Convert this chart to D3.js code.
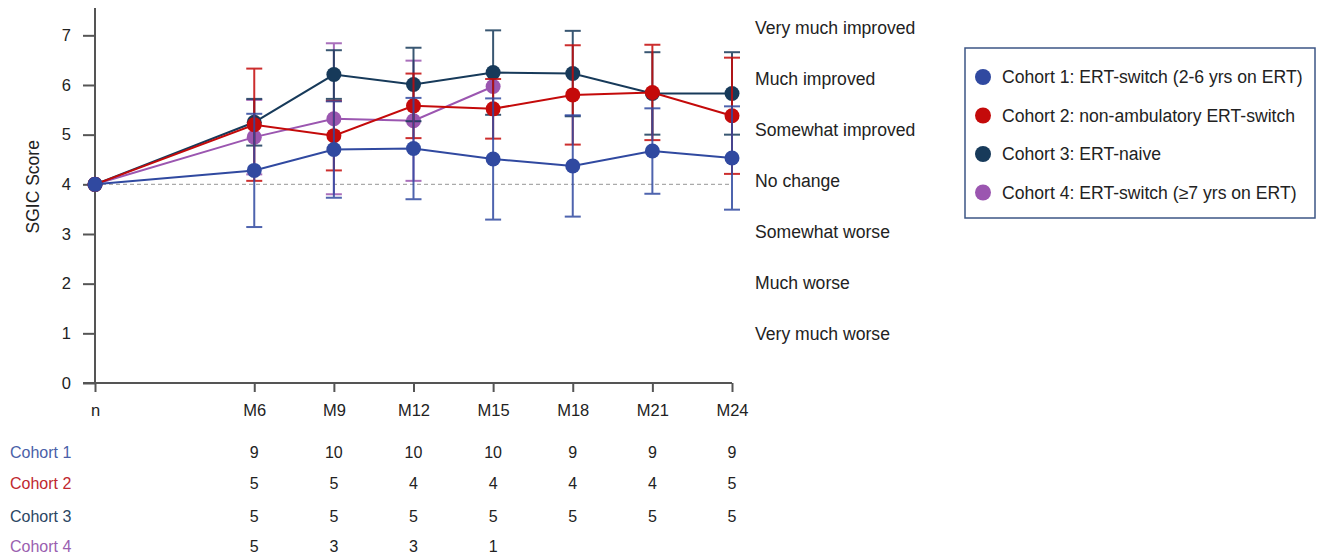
<!DOCTYPE html>
<html><head><meta charset="utf-8">
<script src="https://cdn.jsdelivr.net/npm/d3@7"></script>
<style>
html,body{margin:0;padding:0;background:#fff;}
svg{display:block;font-family:"Liberation Sans",Arial,sans-serif;}
</style></head>
<body><svg id="chart" width="1322" height="557"></svg>
<script>
// ---- data ----
const months = [0, 6, 9, 12, 15, 18, 21, 24];
const tickLabels = ["n", "M6", "M9", "M12", "M15", "M18", "M21", "M24"];
const yTicks = [0, 1, 2, 3, 4, 5, 6, 7];
const categoryLabels = ["Very much worse", "Much worse", "Somewhat worse", "No change", "Somewhat improved", "Much improved", "Very much improved"];
const categoryValues = [1, 2, 3, 4, 5, 6, 7];

const cohortNames = ["Cohort 1", "Cohort 2", "Cohort 3", "Cohort 4"];
const legendLabels = ["Cohort 1: ERT-switch (2-6 yrs on ERT)", "Cohort 2: non-ambulatory ERT-switch", "Cohort 3: ERT-naive", "Cohort 4: ERT-switch (\u22657 yrs on ERT)"];
const colors = ["#3049a0", "#c40a0a", "#173a5a", "#9b56b0"];
const labelColors = ["#4a5fa8", "#c0282e", "#2b4663", "#9a5fb0"];

const c1Mean = [4, 4.28, 4.70, 4.72, 4.51, 4.37, 4.67, 4.53];
const c1SD   = [0, 1.14, 0.97, 1.02, 1.22, 1.02, 0.86, 1.04];
const c2Mean = [4, 5.20, 4.98, 5.58, 5.52, 5.80, 5.85, 5.38];
const c2SD   = [0, 1.13, 0.70, 0.65, 0.60, 1.00, 0.96, 1.17];
const c3Mean = [4, 5.25, 6.21, 6.01, 6.25, 6.23, 5.83, 5.83];
const c3SD   = [0, 0.47, 0.49, 0.74, 0.85, 0.86, 0.83, 0.83];
const c4Mean = [4, 4.95, 5.32, 5.28, 5.97];
const c4SD   = [0, 0.75, 1.52, 1.21, 0];

const n1 = [9, 10, 10, 10, 9, 9, 9];
const n2 = [5, 5, 4, 4, 4, 4, 5];
const n3 = [5, 5, 5, 5, 5, 5, 5];
const n4 = [5, 3, 3, 1];

const means = [c1Mean, c2Mean, c3Mean, c4Mean];
const sds = [c1SD, c2SD, c3SD, c4SD];
const ns = [n1, n2, n3, n4];

// ---- scales ----
const svg = d3.select("#chart");
const x = d3.scaleLinear().domain([0, 24]).range([95, 732]);
const y = d3.scaleLinear().domain([0, 7.55]).range([383, 8]);
const yCat = d3.scaleLinear().domain([1, 7]).range([334, 28]);

// dashed no-change line
svg.append("line")
  .attr("x1", x(0)).attr("x2", x(24))
  .attr("y1", y(4)).attr("y2", y(4))
  .attr("stroke", "#aaa").attr("stroke-width", 1.2)
  .attr("stroke-dasharray", "4,3");

// axes
const axisColor = "#555";
const yAxis = svg.append("g").attr("transform", `translate(${x(0)},0)`)
  .call(d3.axisLeft(y).tickValues(yTicks).tickSize(12).tickPadding(12).tickFormat(d3.format("d")));
const xAxis = svg.append("g").attr("transform", `translate(0,${y(0)})`)
  .call(d3.axisBottom(x).tickValues(months).tickSize(9).tickPadding(12).tickFormat((d, i) => tickLabels[i]));
[yAxis, xAxis].forEach(g => {
  g.select(".domain").attr("stroke", axisColor).attr("stroke-width", 2);
  g.selectAll(".tick line").attr("stroke", axisColor).attr("stroke-width", 2);
  g.selectAll(".tick text").attr("fill", "#222").attr("font-size", 16.5)
    .attr("font-family", "'Liberation Sans', Arial, sans-serif");
});
yAxis.select(".domain").attr("d", `M0,${y(0)}V${y(7.55)}`);
xAxis.select(".domain").attr("d", `M${x(0) - 12},0H${x(24)}`);

// y axis title
svg.append("text")
  .attr("transform", `translate(33,${y(3.95)}) rotate(-90)`)
  .attr("text-anchor", "middle").attr("dy", "0.35em")
  .attr("font-size", 17.5).attr("fill", "#222")
  .text("SGIC Score");

// category labels at right
svg.append("g").selectAll("text").data(categoryValues).join("text")
  .attr("x", 755).attr("y", d => yCat(d)).attr("dy", "0.35em")
  .attr("font-size", 17.6).attr("fill", "#222")
  .text((d, i) => categoryLabels[i]);

// series
const drawOrder = [3, 2, 1, 0];
const capW = 8;
drawOrder.forEach(ci => {
  const m = means[ci], s = sds[ci], col = colors[ci];
  const pts = m.map((v, i) => ({ x: months[i], v, sd: s[i] }));
  const g = svg.append("g");
  // error bars
  const eb = g.selectAll("g.eb").data(pts.filter(p => p.sd > 0)).join("g").attr("class", "eb")
    .attr("stroke", col).attr("stroke-width", 2).attr("opacity", 0.85);
  eb.append("line").attr("x1", p => x(p.x)).attr("x2", p => x(p.x))
    .attr("y1", p => y(p.v - p.sd)).attr("y2", p => y(p.v + p.sd));
  eb.append("line").attr("x1", p => x(p.x) - capW).attr("x2", p => x(p.x) + capW)
    .attr("y1", p => y(p.v + p.sd)).attr("y2", p => y(p.v + p.sd));
  eb.append("line").attr("x1", p => x(p.x) - capW).attr("x2", p => x(p.x) + capW)
    .attr("y1", p => y(p.v - p.sd)).attr("y2", p => y(p.v - p.sd));
  // line
  g.append("path").datum(pts)
    .attr("fill", "none").attr("stroke", col).attr("stroke-width", 2)
    .attr("d", d3.line().x(p => x(p.x)).y(p => y(p.v)));
  // markers
  g.selectAll("circle").data(pts).join("circle")
    .attr("cx", p => x(p.x)).attr("cy", p => y(p.v)).attr("r", 7.5)
    .attr("fill", col);
});

// legend
const lg = svg.append("g");
lg.append("rect").attr("x", 965).attr("y", 48).attr("width", 350).attr("height", 170)
  .attr("fill", "#fff").attr("stroke", "#3d5685").attr("stroke-width", 1.5);
const lgRows = lg.selectAll("g.row").data(legendLabels).join("g").attr("class", "row")
  .attr("transform", (d, i) => `translate(983,${77 + i * 38.5})`);
lgRows.append("circle").attr("r", 8).attr("fill", (d, i) => colors[i]);
lgRows.append("text").attr("x", 19).attr("dy", "0.35em")
  .attr("font-size", 17.6).attr("fill", "#222").text(d => d);

// n table
const rowY = [452, 483, 516, 546];
const tbl = svg.append("g");
cohortNames.forEach((name, ci) => {
  tbl.append("text").attr("x", 10).attr("y", rowY[ci]).attr("dy", "0.35em")
    .attr("font-size", 16).attr("fill", labelColors[ci]).text(name);
  tbl.selectAll(null).data(ns[ci]).join("text")
    .attr("x", (d, i) => x(months[i + 1])).attr("y", rowY[ci]).attr("dy", "0.35em")
    .attr("text-anchor", "middle").attr("font-size", 16).attr("fill", "#222")
    .text(d => d);
});
</script>
</body></html>
